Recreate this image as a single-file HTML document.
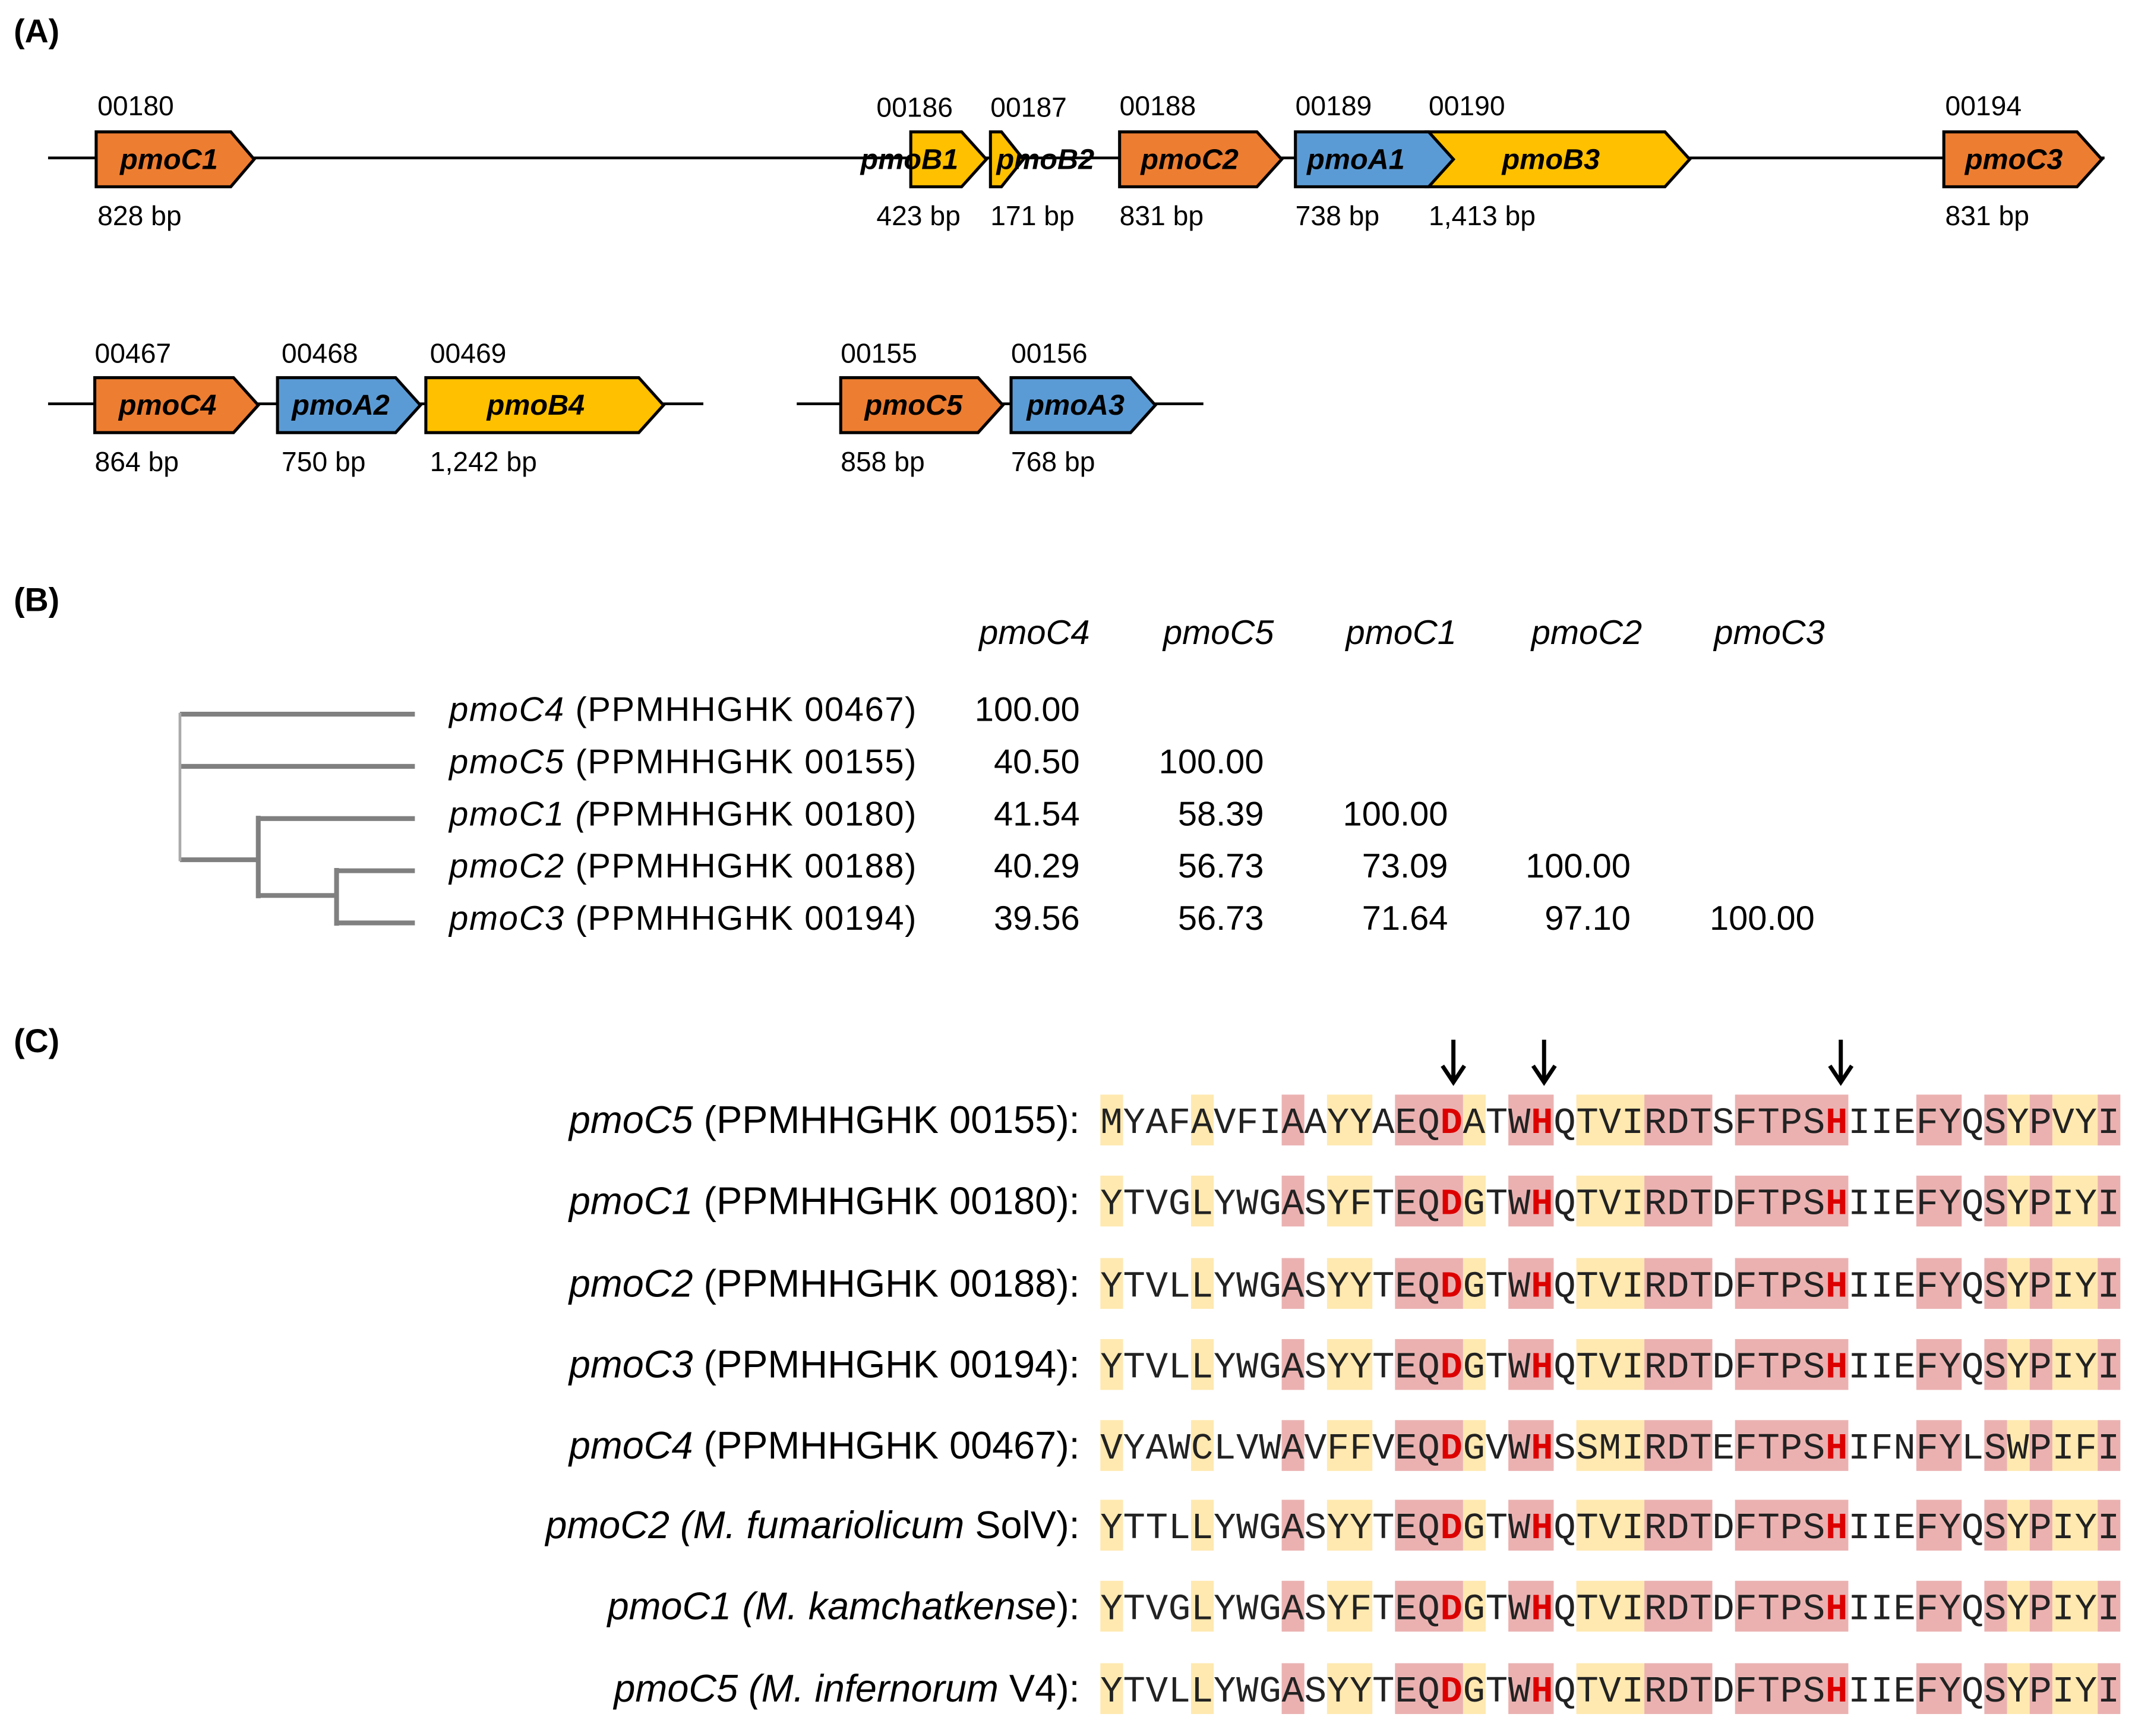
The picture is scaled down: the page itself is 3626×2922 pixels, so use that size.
<!DOCTYPE html>
<html><head><meta charset="utf-8"><style>
html,body{margin:0;padding:0;background:#fff;}
svg{display:block;}
text{font-family:"Liberation Sans",sans-serif;}
.g{font-weight:bold;font-style:italic;font-size:21px;fill:#000;}
.n{font-size:20px;fill:#000;}
.t{font-size:25px;fill:#000;}
.seq text{font-family:"Liberation Mono",monospace;font-size:27px;fill:#222;}
.r{fill:#d00;font-weight:bold;}
</style></head><body>
<svg width="3626" height="2922" viewBox="0 0 1568 1264" preserveAspectRatio="none" xmlns="http://www.w3.org/2000/svg">
<rect width="1568" height="1264" fill="#fff"/>
<text x="10" y="31" font-weight="bold" font-size="24">(A)</text>
<text x="10" y="445" font-weight="bold" font-size="24">(B)</text>
<text x="10" y="766" font-weight="bold" font-size="24">(C)</text>

<line x1="35" y1="115" x2="1532" y2="115" stroke="#000" stroke-width="2"/>
<g stroke="#000" stroke-width="2.2">
<polygon points="70,96 168,96 185,116 168,136 70,136" fill="#ED7D31"/>
<polygon points="663,96 700,96 718,116 700,136 663,136" fill="#FFC000"/>
<polygon points="721,96 729,96 745,116 729,136 721,136" fill="#FFC000"/>
<polygon points="815,96 915,96 933,116 915,136 815,136" fill="#ED7D31"/>
<polygon points="1038,96 1212,96 1230,116 1212,136 1038,136" fill="#FFC000"/>
<polygon points="943,96 1040,96 1058,116 1040,136 943,136" fill="#5B9BD5"/>
<polygon points="1415,96 1512,96 1530,116 1512,136 1415,136" fill="#ED7D31"/>
</g>
<text class="g" x="662" y="123" text-anchor="middle">pmoB1</text>
<text class="g" x="761" y="123" text-anchor="middle">pmoB2</text>
<text class="g" x="123" y="123" text-anchor="middle">pmoC1</text>
<text class="g" x="866" y="123" text-anchor="middle">pmoC2</text>
<text class="g" x="987" y="123" text-anchor="middle">pmoA1</text>
<text class="g" x="1129" y="123" text-anchor="middle">pmoB3</text>
<text class="g" x="1466" y="123" text-anchor="middle">pmoC3</text>
<text class="n" x="71" y="84">00180</text><text class="n" x="71" y="164">828 bp</text>
<text class="n" x="638" y="85">00186</text><text class="n" x="638" y="164">423 bp</text>
<text class="n" x="721" y="85">00187</text><text class="n" x="721" y="164">171 bp</text>
<text class="n" x="815" y="84">00188</text><text class="n" x="815" y="164">831 bp</text>
<text class="n" x="943" y="84">00189</text><text class="n" x="943" y="164">738 bp</text>
<text class="n" x="1040" y="84">00190</text><text class="n" x="1040" y="164">1,413 bp</text>
<text class="n" x="1416" y="84">00194</text><text class="n" x="1416" y="164">831 bp</text>

<line x1="35" y1="294" x2="512" y2="294" stroke="#000" stroke-width="2"/>
<line x1="580" y1="294" x2="876" y2="294" stroke="#000" stroke-width="2"/>
<g stroke="#000" stroke-width="2.2">
<polygon points="69,275 170,275 188,295 170,315 69,315" fill="#ED7D31"/>
<polygon points="202,275 288,275 306,295 288,315 202,315" fill="#5B9BD5"/>
<polygon points="310,275 465,275 483,295 465,315 310,315" fill="#FFC000"/>
<polygon points="612,275 712,275 730,295 712,315 612,315" fill="#ED7D31"/>
<polygon points="736,275 823,275 841,295 823,315 736,315" fill="#5B9BD5"/>
</g>
<text class="g" x="122" y="302" text-anchor="middle">pmoC4</text>
<text class="g" x="248" y="302" text-anchor="middle">pmoA2</text>
<text class="g" x="390" y="302" text-anchor="middle">pmoB4</text>
<text class="g" x="665" y="302" text-anchor="middle">pmoC5</text>
<text class="g" x="783" y="302" text-anchor="middle">pmoA3</text>
<text class="n" x="69" y="264">00467</text><text class="n" x="69" y="343">864 bp</text>
<text class="n" x="205" y="264">00468</text><text class="n" x="205" y="343">750 bp</text>
<text class="n" x="313" y="264">00469</text><text class="n" x="313" y="343">1,242 bp</text>
<text class="n" x="612" y="264">00155</text><text class="n" x="612" y="343">858 bp</text>
<text class="n" x="736" y="264">00156</text><text class="n" x="736" y="343">768 bp</text>

<g stroke="#808080" stroke-width="3.5" fill="none">
<line x1="131" y1="520" x2="302" y2="520"/>
<line x1="131" y1="558" x2="302" y2="558"/>
<line x1="188" y1="596" x2="302" y2="596"/>
<line x1="245" y1="634" x2="302" y2="634"/>
<line x1="245" y1="672" x2="302" y2="672"/>
<line x1="131" y1="626" x2="188" y2="626"/>
<line x1="188" y1="652" x2="245" y2="652"/>
<line x1="188" y1="594" x2="188" y2="654"/>
<line x1="245" y1="632" x2="245" y2="674"/>
</g>
<line x1="131" y1="519" x2="131" y2="627" stroke="#aaa" stroke-width="2"/>
<g class="t">
<text x="327" y="525" textLength="340"><tspan font-style="italic">pmoC4</tspan> (PPMHHGHK 00467)</text>
<text x="327" y="563" textLength="340"><tspan font-style="italic">pmoC5</tspan> (PPMHHGHK 00155)</text>
<text x="327" y="601" textLength="340"><tspan font-style="italic">pmoC1 (</tspan>PPMHHGHK 00180)</text>
<text x="327" y="639" textLength="340"><tspan font-style="italic">pmoC2</tspan> (PPMHHGHK 00188)</text>
<text x="327" y="677" textLength="340"><tspan font-style="italic">pmoC3</tspan> (PPMHHGHK 00194)</text>
</g>
<g class="t" font-style="italic" text-anchor="middle">
<text x="753" y="469">pmoC4</text><text x="887" y="469">pmoC5</text><text x="1020" y="469">pmoC1</text><text x="1155" y="469">pmoC2</text><text x="1288" y="469">pmoC3</text>
</g>
<g class="t" text-anchor="end">
<text x="786" y="525">100.00</text>
<text x="786" y="563">40.50</text><text x="920" y="563">100.00</text>
<text x="786" y="601">41.54</text><text x="920" y="601">58.39</text><text x="1054" y="601">100.00</text>
<text x="786" y="639">40.29</text><text x="920" y="639">56.73</text><text x="1054" y="639">73.09</text><text x="1187" y="639">100.00</text>
<text x="786" y="677">39.56</text><text x="920" y="677">56.73</text><text x="1054" y="677">71.64</text><text x="1187" y="677">97.10</text><text x="1321" y="677">100.00</text>
</g>

<defs>
<g id="sh">
<g fill="#FFE9B0">
<rect x="801" y="0" width="16.5" height="37"/><rect x="867" y="0" width="16.5" height="37"/>
<rect x="966" y="0" width="33" height="37"/><rect x="1065" y="0" width="16.5" height="37"/>
<rect x="1147.5" y="0" width="49.5" height="37"/><rect x="1461" y="0" width="16.5" height="37"/>
<rect x="1494" y="0" width="33" height="37"/>
</g>
<g fill="#EBB1B1">
<rect x="933" y="0" width="16.5" height="37"/><rect x="1015.5" y="0" width="49.5" height="37"/>
<rect x="1098" y="0" width="33" height="37"/><rect x="1197" y="0" width="49.5" height="37"/>
<rect x="1263" y="0" width="82.5" height="37"/><rect x="1395" y="0" width="33" height="37"/>
<rect x="1444.5" y="0" width="16.5" height="37"/><rect x="1477.5" y="0" width="16.5" height="37"/>
<rect x="1527" y="0" width="16.5" height="37"/>
</g>
</g>
</defs>
<use href="#sh" y="797"/><use href="#sh" y="856"/><use href="#sh" y="916"/><use href="#sh" y="975"/>
<use href="#sh" y="1034"/><use href="#sh" y="1092"/><use href="#sh" y="1151"/><use href="#sh" y="1211"/>

<g stroke="#000" stroke-width="3" fill="none">
<line x1="1058" y1="757" x2="1058" y2="787"/><polyline points="1050,776 1058,788 1066,776"/>
<line x1="1124" y1="757" x2="1124" y2="787"/><polyline points="1116,776 1124,788 1132,776"/>
<line x1="1340" y1="757" x2="1340" y2="787"/><polyline points="1332,776 1340,788 1348,776"/>
</g>

<g class="seq">
<text x="801" y="825" textLength="742" lengthAdjust="spacing">MYAFAVFIAAYYAEQ<tspan class="r">D</tspan>ATW<tspan class="r">H</tspan>QTVIRDTSFTPS<tspan class="r">H</tspan>IIEFYQSYPVYI</text>
<text x="801" y="884" textLength="742" lengthAdjust="spacing">YTVGLYWGASYFTEQ<tspan class="r">D</tspan>GTW<tspan class="r">H</tspan>QTVIRDTDFTPS<tspan class="r">H</tspan>IIEFYQSYPIYI</text>
<text x="801" y="944" textLength="742" lengthAdjust="spacing">YTVLLYWGASYYTEQ<tspan class="r">D</tspan>GTW<tspan class="r">H</tspan>QTVIRDTDFTPS<tspan class="r">H</tspan>IIEFYQSYPIYI</text>
<text x="801" y="1003" textLength="742" lengthAdjust="spacing">YTVLLYWGASYYTEQ<tspan class="r">D</tspan>GTW<tspan class="r">H</tspan>QTVIRDTDFTPS<tspan class="r">H</tspan>IIEFYQSYPIYI</text>
<text x="801" y="1062" textLength="742" lengthAdjust="spacing">VYAWCLVWAVFFVEQ<tspan class="r">D</tspan>GVW<tspan class="r">H</tspan>SSMIRDTEFTPS<tspan class="r">H</tspan>IFNFYLSWPIFI</text>
<text x="801" y="1120" textLength="742" lengthAdjust="spacing">YTTLLYWGASYYTEQ<tspan class="r">D</tspan>GTW<tspan class="r">H</tspan>QTVIRDTDFTPS<tspan class="r">H</tspan>IIEFYQSYPIYI</text>
<text x="801" y="1179" textLength="742" lengthAdjust="spacing">YTVGLYWGASYFTEQ<tspan class="r">D</tspan>GTW<tspan class="r">H</tspan>QTVIRDTDFTPS<tspan class="r">H</tspan>IIEFYQSYPIYI</text>
<text x="801" y="1239" textLength="742" lengthAdjust="spacing">YTVLLYWGASYYTEQ<tspan class="r">D</tspan>GTW<tspan class="r">H</tspan>QTVIRDTDFTPS<tspan class="r">H</tspan>IIEFYQSYPIYI</text>
</g>

<g class="t" text-anchor="end" font-size="28" fill="#222">
<text x="786" y="825" font-size="28"><tspan font-style="italic">pmoC5</tspan> (PPMHHGHK 00155):</text>
<text x="786" y="884" font-size="28"><tspan font-style="italic">pmoC1</tspan> (PPMHHGHK 00180):</text>
<text x="786" y="944" font-size="28"><tspan font-style="italic">pmoC2</tspan> (PPMHHGHK 00188):</text>
<text x="786" y="1003" font-size="28"><tspan font-style="italic">pmoC3</tspan> (PPMHHGHK 00194):</text>
<text x="786" y="1062" font-size="28"><tspan font-style="italic">pmoC4</tspan> (PPMHHGHK 00467):</text>
<text x="786" y="1120" font-size="28"><tspan font-style="italic">pmoC2 (M. fumariolicum</tspan> SolV):</text>
<text x="786" y="1179" font-size="28"><tspan font-style="italic">pmoC1 (M. kamchatkense</tspan>):</text>
<text x="786" y="1239" font-size="28"><tspan font-style="italic">pmoC5 (M. infernorum</tspan> V4):</text>
</g>
</svg>
</body></html>
